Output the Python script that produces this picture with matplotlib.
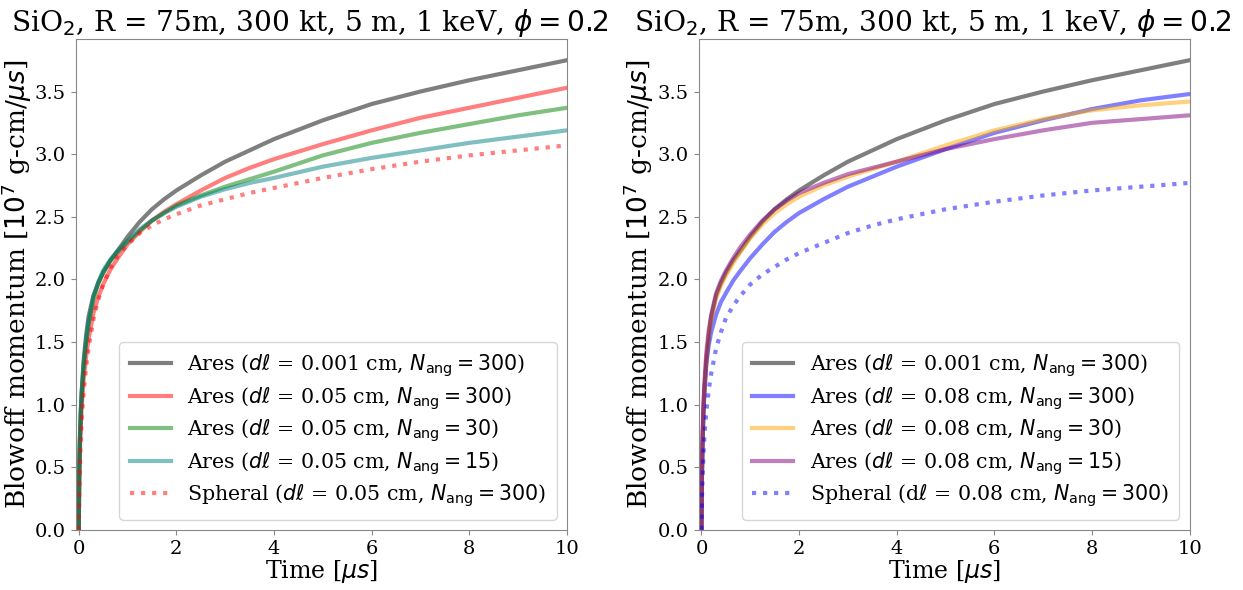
import matplotlib
matplotlib.use("Agg")
import matplotlib.pyplot as plt

plt.rcParams['font.family'] = ['DejaVu Serif']
plt.rcParams['mathtext.fontset'] = 'dejavusans'

# time samples [us]
t = [0, 0.01, 0.02, 0.04, 0.06, 0.1, 0.15, 0.2, 0.3, 0.4, 0.5, 0.65, 0.8, 1.0,
     1.25, 1.5, 1.75, 2, 2.5, 3, 3.5, 4, 5, 6, 7, 8, 9, 10]

# Left panel (dl = 0.05 cm)
ares_fine = [0, 0.45, 0.65, 0.92, 1.10, 1.35, 1.55, 1.70, 1.87, 1.97, 2.05, 2.15, 2.23, 2.34,
             2.46, 2.56, 2.64, 2.71, 2.83, 2.94, 3.03, 3.12, 3.27, 3.40, 3.50, 3.59, 3.67, 3.75]
ares05_300 = [0, 0.40, 0.58, 0.82, 0.98, 1.20, 1.38, 1.52, 1.73, 1.86, 1.96, 2.08, 2.17, 2.28,
              2.38, 2.47, 2.54, 2.60, 2.71, 2.81, 2.89, 2.96, 3.08, 3.19, 3.29, 3.37, 3.45, 3.53]
ares05_30 = [0, 0.48, 0.68, 0.92, 1.08, 1.30, 1.49, 1.64, 1.84, 1.97, 2.06, 2.15, 2.22, 2.30,
             2.39, 2.47, 2.53, 2.59, 2.67, 2.74, 2.80, 2.86, 2.99, 3.09, 3.17, 3.24, 3.31, 3.37]
ares05_15 = [0, 0.50, 0.70, 0.94, 1.10, 1.32, 1.51, 1.66, 1.86, 1.98, 2.07, 2.16, 2.23, 2.31,
             2.40, 2.47, 2.53, 2.58, 2.66, 2.72, 2.77, 2.81, 2.90, 2.97, 3.03, 3.09, 3.14, 3.19]
spheral05 = [0, 0.30, 0.45, 0.70, 0.88, 1.10, 1.30, 1.45, 1.68, 1.84, 1.96, 2.09, 2.19, 2.28,
             2.37, 2.43, 2.48, 2.52, 2.59, 2.64, 2.69, 2.73, 2.81, 2.88, 2.94, 2.99, 3.03, 3.07]

# Right panel (dl = 0.08 cm)
ares08_300 = [0, 0.45, 0.65, 0.95, 1.12, 1.33, 1.48, 1.58, 1.72, 1.82, 1.89, 1.99, 2.07, 2.17,
              2.28, 2.38, 2.46, 2.53, 2.64, 2.74, 2.82, 2.90, 3.04, 3.17, 3.27, 3.36, 3.43, 3.48]
ares08_30 = [0, 0.48, 0.70, 0.98, 1.15, 1.38, 1.56, 1.68, 1.85, 1.95, 2.03, 2.13, 2.22, 2.33,
             2.44, 2.53, 2.60, 2.66, 2.75, 2.82, 2.88, 2.94, 3.07, 3.19, 3.28, 3.35, 3.39, 3.42]
ares08_15 = [0, 0.50, 0.72, 1.00, 1.18, 1.42, 1.60, 1.72, 1.89, 1.99, 2.07, 2.17, 2.26, 2.36,
             2.47, 2.56, 2.63, 2.69, 2.77, 2.84, 2.89, 2.94, 3.04, 3.12, 3.19, 3.25, 3.28, 3.31]
spheral08 = [0, 0.25, 0.38, 0.60, 0.75, 0.95, 1.12, 1.25, 1.45, 1.58, 1.69, 1.79, 1.87, 1.96,
             2.04, 2.10, 2.16, 2.21, 2.29, 2.37, 2.43, 2.48, 2.56, 2.62, 2.67, 2.71, 2.74, 2.77]

title = r'SiO$_2$, R = 75m, 300 kt, 5 m, 1 keV, $\phi = 0.2$'
ylabel = r'Blowoff momentum [$10^7$ g-cm/$\mu s$]'
xlabel = r'Time [$\mu s$]'

left_series = [
    (ares_fine, 'k', '-', r'Ares ($d\ell$ = 0.001 cm, $N_{\rm ang} = 300$)'),
    (ares05_300, 'r', '-', r'Ares ($d\ell$ = 0.05 cm, $N_{\rm ang} = 300$)'),
    (ares05_30, 'g', '-', r'Ares ($d\ell$ = 0.05 cm, $N_{\rm ang} = 30$)'),
    (ares05_15, 'teal', '-', r'Ares ($d\ell$ = 0.05 cm, $N_{\rm ang} = 15$)'),
    (spheral05, 'r', ':', r'Spheral ($d\ell$ = 0.05 cm, $N_{\rm ang} = 300$)'),
]
right_series = [
    (ares_fine, 'k', '-', r'Ares ($d\ell$ = 0.001 cm, $N_{\rm ang} = 300$)'),
    (ares08_300, 'b', '-', r'Ares ($d\ell$ = 0.08 cm, $N_{\rm ang} = 300$)'),
    (ares08_30, 'orange', '-', r'Ares ($d\ell$ = 0.08 cm, $N_{\rm ang} = 30$)'),
    (ares08_15, 'purple', '-', r'Ares ($d\ell$ = 0.08 cm, $N_{\rm ang} = 15$)'),
    (spheral08, 'b', ':', r'Spheral (d$\ell$ = 0.08 cm, $N_{\rm ang} = 300$)'),
]

fig = plt.figure(figsize=(12.43, 5.90), dpi=100)
ax1 = fig.add_axes([0.061, 0.102, 0.395, 0.832])
ax2 = fig.add_axes([0.562, 0.102, 0.395, 0.832])

for ax, series in [(ax1, left_series), (ax2, right_series)]:
    for y, c, ls, lab in series:
        ax.plot(t, y, color=c, ls=ls, lw=3, alpha=0.5, label=lab)
    ax.set_xlim(-0.06, 10)
    ax.set_ylim(0, 3.92)
    ax.set_xticks([0, 2, 4, 6, 8, 10])
    ax.set_yticks([0.0, 0.5, 1.0, 1.5, 2.0, 2.5, 3.0, 3.5])
    ax.tick_params(labelsize=14, color='#888888')
    for s in ax.spines.values():
        s.set_color('#888888')
    ax.set_title(title, fontsize=20.2, pad=4, x=0.476)
    ax.set_xlabel(xlabel, fontsize=17, labelpad=0)
    ax.set_ylabel(ylabel, fontsize=19, labelpad=1)
    ax.legend(loc='lower right', fontsize=14.8, handlelength=2.0,
              labelspacing=0.28, borderpad=0.5)

fig.savefig('out.png', dpi=100)
